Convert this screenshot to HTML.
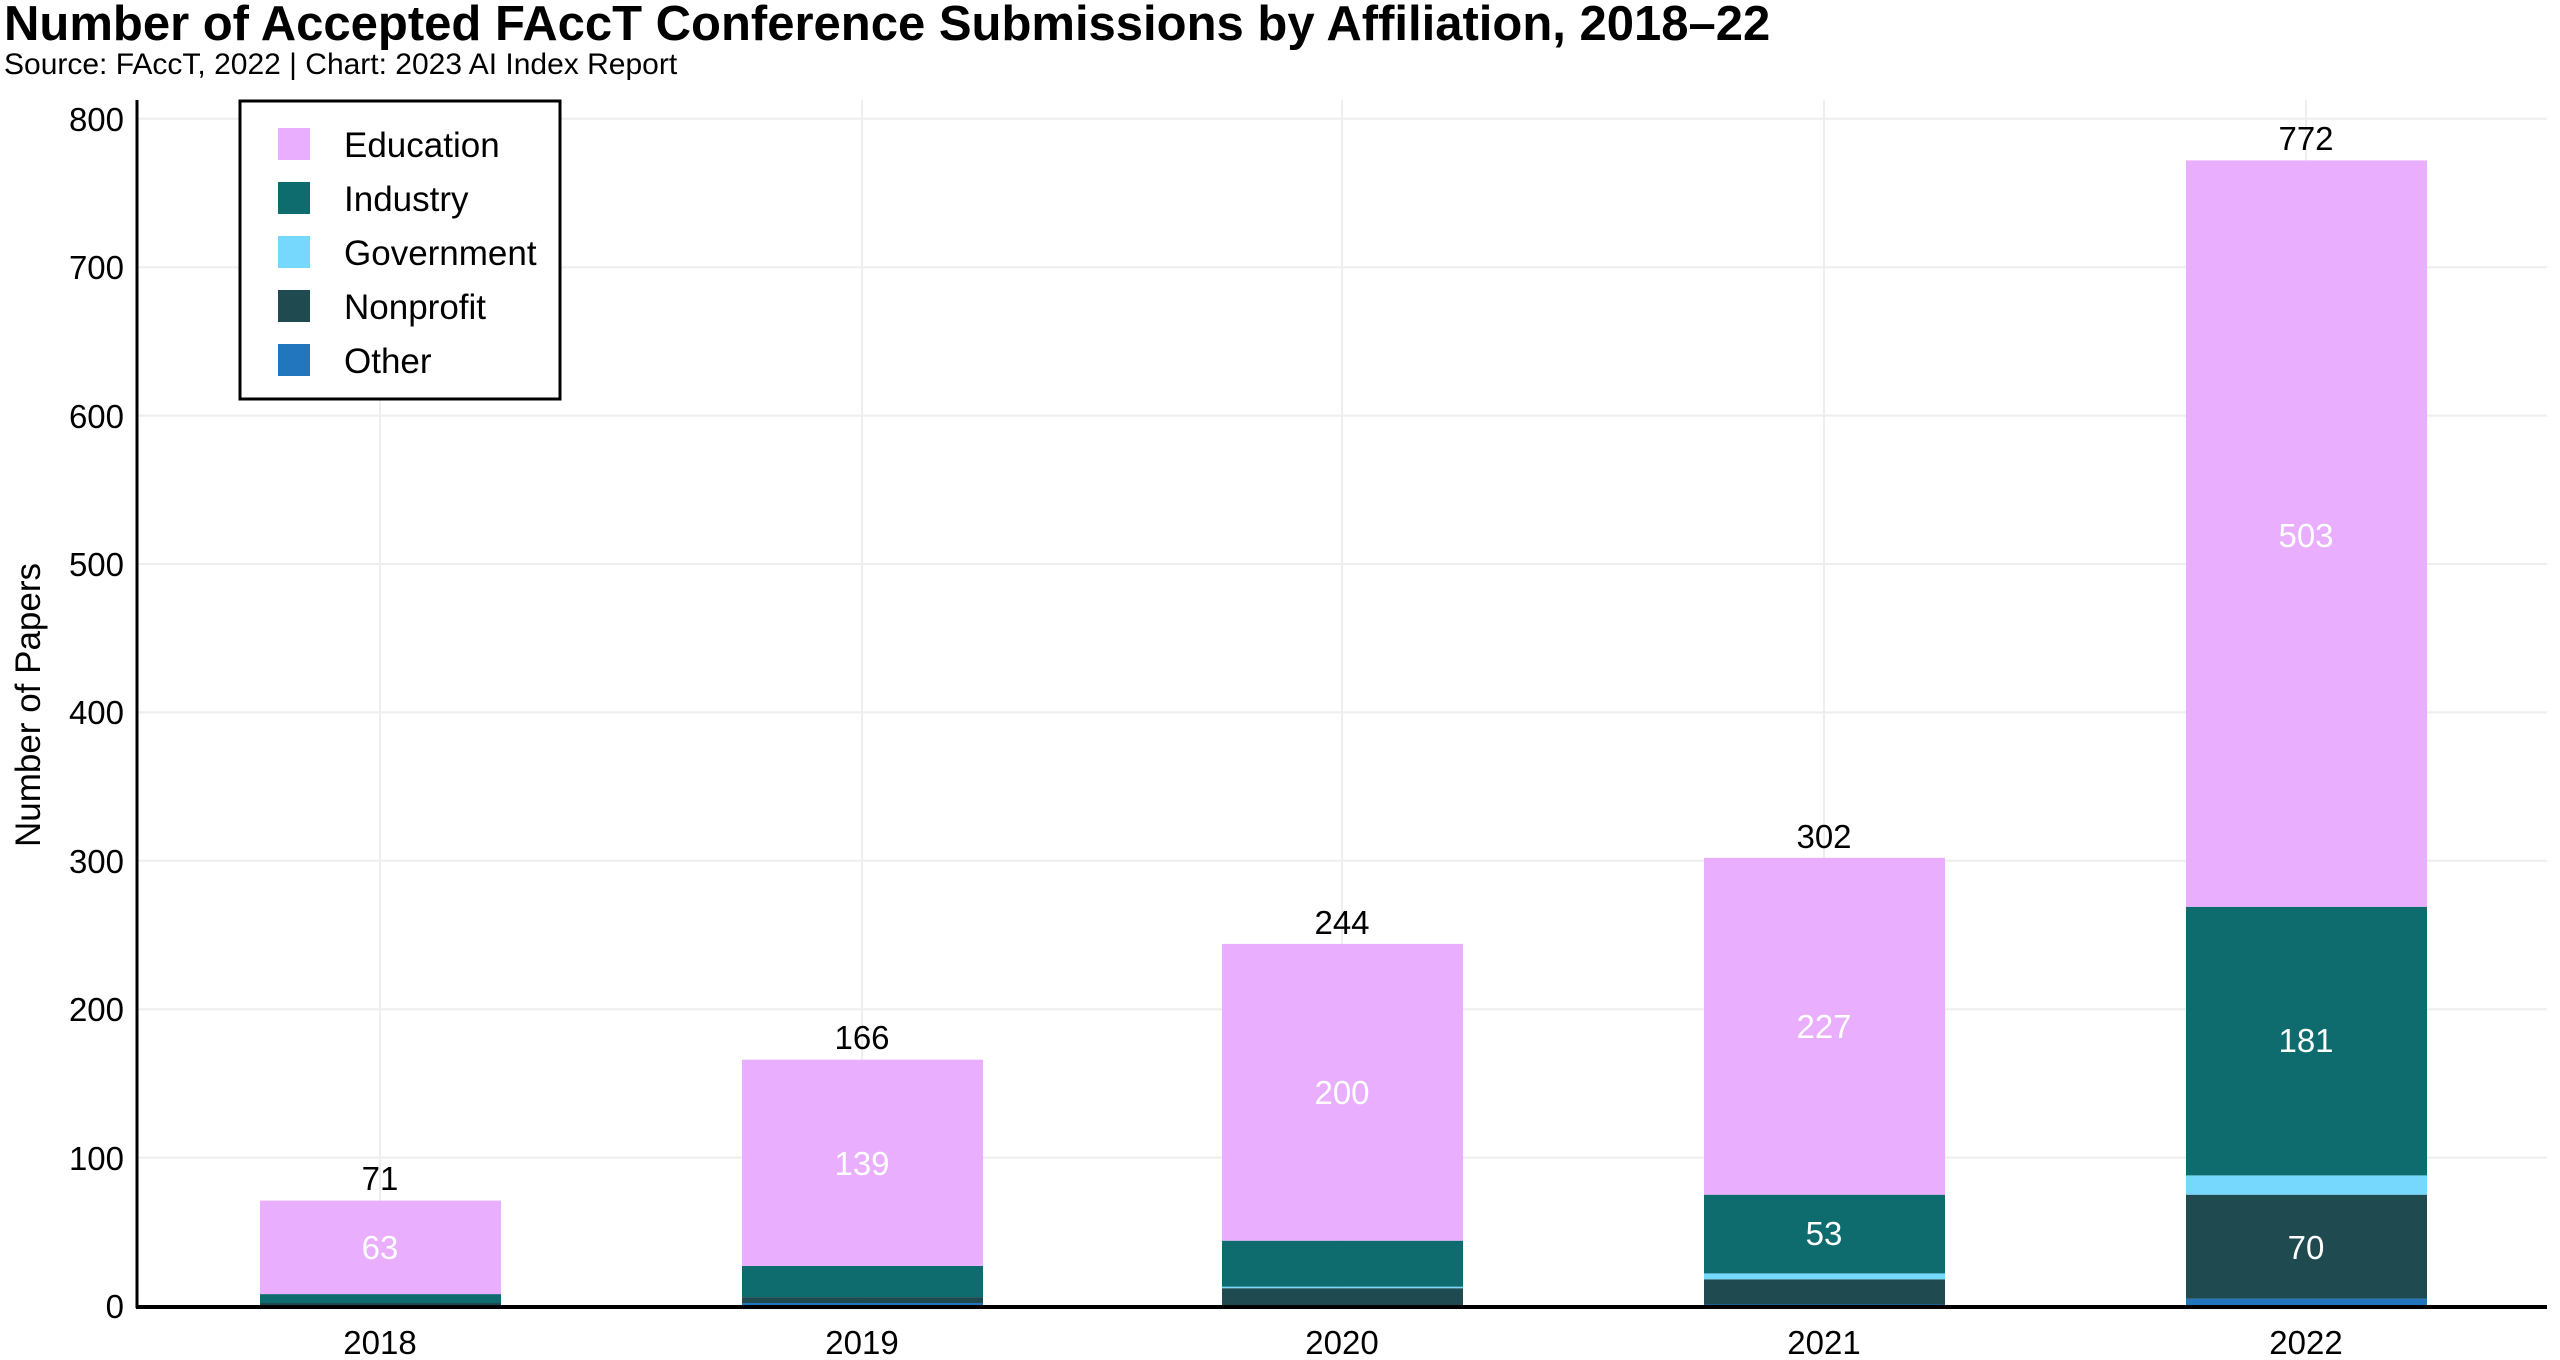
<!DOCTYPE html>
<html><head><meta charset="utf-8"><style>
html,body{margin:0;padding:0;background:#fff;}
svg{display:block;font-family:"Liberation Sans",sans-serif;}
</style></head><body>
<svg width="2560" height="1360" viewBox="0 0 2560 1360">
<text x="4" y="40" font-size="49" font-weight="bold" fill="#000">Number of Accepted FAccT Conference Submissions by Affiliation, 2018–22</text>
<text x="4" y="74" font-size="30" fill="#000">Source: FAccT, 2022 | Chart: 2023 AI Index Report</text>
<g stroke="#eeeeee" stroke-width="2">
<line x1="137" x2="2547" y1="1157.6" y2="1157.6"/>
<line x1="137" x2="2547" y1="1009.2" y2="1009.2"/>
<line x1="137" x2="2547" y1="860.8" y2="860.8"/>
<line x1="137" x2="2547" y1="712.4" y2="712.4"/>
<line x1="137" x2="2547" y1="564" y2="564"/>
<line x1="137" x2="2547" y1="415.6" y2="415.6"/>
<line x1="137" x2="2547" y1="267.2" y2="267.2"/>
<line x1="137" x2="2547" y1="118.8" y2="118.8"/>
<line x1="380" x2="380" y1="100" y2="1306"/>
<line x1="862" x2="862" y1="100" y2="1306"/>
<line x1="1342" x2="1342" y1="100" y2="1306"/>
<line x1="1824" x2="1824" y1="100" y2="1306"/>
<line x1="2306" x2="2306" y1="100" y2="1306"/>
</g>
<!-- 2018 -->
<rect x="260" y="1303.0" width="241" height="3" fill="#1e4a50"/>
<rect x="260" y="1294.1" width="241" height="8.9" fill="#0e6b6e"/>
<rect x="260" y="1200.6" width="241" height="93.5" fill="#e9aefe"/>
<!-- 2019 -->
<rect x="742" y="1303.0" width="241" height="3" fill="#2276bd"/>
<rect x="742" y="1297.1" width="241" height="5.9" fill="#1e4a50"/>
<rect x="742" y="1265.9" width="241" height="31.2" fill="#0e6b6e"/>
<rect x="742" y="1059.7" width="241" height="206.2" fill="#e9aefe"/>
<!-- 2020 -->
<rect x="1222" y="1288.2" width="241" height="17.8" fill="#1e4a50"/>
<rect x="1222" y="1286.7" width="241" height="1.5" fill="#75d8fc"/>
<rect x="1222" y="1240.7" width="241" height="46" fill="#0e6b6e"/>
<rect x="1222" y="943.9" width="241" height="296.8" fill="#e9aefe"/>
<!-- 2021 -->
<rect x="1704" y="1304.5" width="241" height="1.5" fill="#2276bd"/>
<rect x="1704" y="1279.3" width="241" height="25.2" fill="#1e4a50"/>
<rect x="1704" y="1273.4" width="241" height="5.9" fill="#75d8fc"/>
<rect x="1704" y="1194.7" width="241" height="78.7" fill="#0e6b6e"/>
<rect x="1704" y="857.8" width="241" height="336.9" fill="#e9aefe"/>
<!-- 2022 -->
<rect x="2186" y="1298.6" width="241" height="7.4" fill="#2276bd"/>
<rect x="2186" y="1194.7" width="241" height="103.9" fill="#1e4a50"/>
<rect x="2186" y="1175.4" width="241" height="19.3" fill="#75d8fc"/>
<rect x="2186" y="906.8" width="241" height="268.6" fill="#0e6b6e"/>
<rect x="2186" y="160.4" width="241" height="746.4" fill="#e9aefe"/>
<!-- axes -->
<line x1="137" x2="137" y1="100" y2="1308" stroke="#000" stroke-width="3"/>
<line x1="136" x2="2547" y1="1307" y2="1307" stroke="#000" stroke-width="4"/>
<g font-size="33" fill="#000" text-anchor="end">
<text x="124" y="1318">0</text>
<text x="124" y="1170">100</text>
<text x="124" y="1021">200</text>
<text x="124" y="873">300</text>
<text x="124" y="724">400</text>
<text x="124" y="576">500</text>
<text x="124" y="428">600</text>
<text x="124" y="279">700</text>
<text x="124" y="131">800</text>
</g>
<g font-size="33" fill="#000" text-anchor="middle">
<text x="380" y="1354">2018</text>
<text x="862" y="1354">2019</text>
<text x="1342" y="1354">2020</text>
<text x="1824" y="1354">2021</text>
<text x="2306" y="1354">2022</text>
<text x="380" y="1190">71</text>
<text x="862" y="1049">166</text>
<text x="1342" y="934">244</text>
<text x="1824" y="848">302</text>
<text x="2306" y="150">772</text>
</g>
<g font-size="33" fill="#fff" text-anchor="middle">
<text x="380" y="1259">63</text>
<text x="862" y="1175">139</text>
<text x="1342" y="1104">200</text>
<text x="1824" y="1038">227</text>
<text x="2306" y="547">503</text>
<text x="1824" y="1245">53</text>
<text x="2306" y="1052">181</text>
<text x="2306" y="1259">70</text>
</g>
<text transform="translate(40,705) rotate(-90)" font-size="35" text-anchor="middle" fill="#000">Number of Papers</text>
<!-- legend -->
<rect x="240" y="101" width="320" height="298" fill="#fff" stroke="#000" stroke-width="3"/>
<rect x="278" y="128" width="32" height="32" fill="#e9aefe"/>
<rect x="278" y="182" width="32" height="32" fill="#0e6b6e"/>
<rect x="278" y="236" width="32" height="32" fill="#75d8fc"/>
<rect x="278" y="290" width="32" height="32" fill="#1e4a50"/>
<rect x="278" y="344" width="32" height="32" fill="#2276bd"/>
<g font-size="35" fill="#000">
<text x="344" y="157">Education</text>
<text x="344" y="211">Industry</text>
<text x="344" y="265">Government</text>
<text x="344" y="319">Nonprofit</text>
<text x="344" y="373">Other</text>
</g>
</svg>
</body></html>
